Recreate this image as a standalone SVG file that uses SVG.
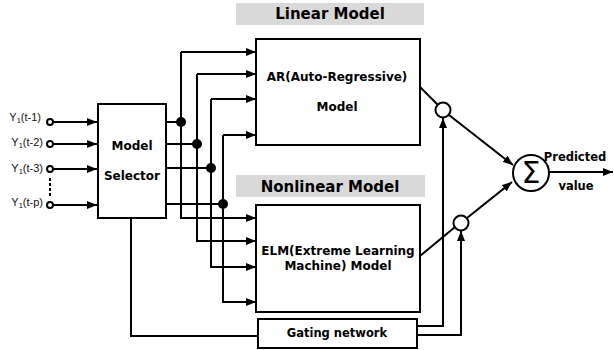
<svg xmlns="http://www.w3.org/2000/svg" width="614" height="350" viewBox="0 0 614 350">
<defs>
<marker id="arr" viewBox="0 0 10 8" refX="10" refY="4" markerWidth="10" markerHeight="8" markerUnits="userSpaceOnUse" orient="auto">
<path d="M0,0 L10,4 L0,8 Z" fill="#000"/>
</marker>
</defs>
<style>
.box{fill:#fff;stroke:#000;stroke-width:2}
.ln{fill:none;stroke:#000;stroke-width:2}
.a{marker-end:url(#arr)}
.lbl{fill:#d9d9d9}
.t{font-family:"DejaVu Sans",sans-serif;font-weight:bold;font-size:12px;text-anchor:middle;fill:#000}
.h{font-family:"DejaVu Sans",sans-serif;font-weight:bold;font-size:15px;text-anchor:middle;fill:#000}
.in{font-family:"Liberation Sans",Arial,sans-serif;font-size:11px;text-anchor:end;fill:#111}
.dot{fill:#000}
.oc{fill:#fff;stroke:#000;stroke-width:2}
</style>
<rect width="614" height="350" fill="#fff"/>

<g id="connectors">
<line class="ln a" x1="53" y1="122" x2="97" y2="122"/>
<line class="ln a" x1="53" y1="144" x2="97" y2="144"/>
<line class="ln a" x1="53" y1="169" x2="97" y2="169"/>
<line class="ln a" x1="53" y1="205" x2="97" y2="205"/>
<line x1="50" y1="178" x2="50" y2="198" stroke="#000" stroke-width="2" stroke-dasharray="3,2"/>
<line class="ln" x1="166" y1="122" x2="181" y2="122"/>
<line class="ln" x1="166" y1="144" x2="197" y2="144"/>
<line class="ln" x1="166" y1="168" x2="211" y2="168"/>
<line class="ln" x1="166" y1="204" x2="223" y2="204"/>
<path class="ln a" d="M181,52 H256"/>
<path class="ln a" d="M181,52 V218 H256"/>
<path class="ln a" d="M197,74 H256"/>
<path class="ln a" d="M197,74 V241 H256"/>
<path class="ln a" d="M211,99 H256"/>
<path class="ln a" d="M211,99 V267 H256"/>
<path class="ln a" d="M223,135 H256"/>
<path class="ln a" d="M223,135 V302 H256"/>
<circle class="dot" cx="181" cy="122" r="5"/>
<circle class="dot" cx="197" cy="144" r="5"/>
<circle class="dot" cx="211" cy="168" r="5"/>
<circle class="dot" cx="223" cy="204" r="5"/>
<path class="ln" d="M131,218 V336 H258"/>
<path class="ln a" d="M417,326 H443 V118"/>
<path class="ln a" d="M417,335 H461 V231"/>
<line class="ln" x1="420" y1="87" x2="437.5" y2="104.5"/>
<line class="ln" x1="420" y1="256" x2="455" y2="227"/>
<line class="ln a" x1="449" y1="115" x2="513" y2="165"/>
<line class="ln a" x1="467" y1="218" x2="512" y2="182"/>
<line class="ln a" x1="549" y1="172" x2="613" y2="172"/>
</g>

<g id="inputs">
<text class="in" x="41" y="121">Y<tspan font-size="7.5" dy="2">1</tspan><tspan dy="-2">(t-1)</tspan></text>
<text class="in" x="43" y="146">Y<tspan font-size="7.5" dy="2">1</tspan><tspan dy="-2">(t-2)</tspan></text>
<text class="in" x="43" y="172">Y<tspan font-size="7.5" dy="2">1</tspan><tspan dy="-2">(t-3)</tspan></text>
<text class="in" x="43" y="206">Y<tspan font-size="7.5" dy="2">1</tspan><tspan dy="-2">(t-p)</tspan></text>
<circle class="oc" cx="50" cy="122" r="3"/>
<circle class="oc" cx="50" cy="144" r="3"/>
<circle class="oc" cx="50" cy="169" r="3"/>
<circle class="oc" cx="50" cy="205" r="3"/>
</g>

<g id="selector">
<rect class="box" x="98" y="104" width="68" height="114"/>
<text class="t" x="132" y="150">Model</text>
<text class="t" x="132" y="180">Selector</text>
</g>

<g id="linear-label">
<rect class="lbl" x="236" y="3" width="188" height="22"/>
<text class="h" x="330" y="19">Linear Model</text>
</g>

<g id="linear">
<rect class="box" x="256" y="39" width="164" height="106"/>
<text class="t" x="337" y="81">AR(Auto-Regressive)</text>
<text class="t" x="337" y="111">Model</text>
</g>

<g id="nonlinear-label">
<rect class="lbl" x="236" y="175" width="189" height="22"/>
<text class="h" x="330" y="192">Nonlinear Model</text>
</g>

<g id="nonlinear">
<rect class="box" x="256" y="205" width="164" height="107"/>
<text class="t" x="338" y="255">ELM(Extreme Learning</text>
<text class="t" x="338" y="270">Machine) Model</text>
</g>

<g id="gating">
<rect class="box" x="258" y="319" width="159" height="29"/>
<text class="t" x="337" y="337" style="font-size:11.5px">Gating network</text>
</g>

<g id="mult1">
<circle class="oc" cx="443" cy="110" r="7.5"/>
</g>
<g id="mult2">
<circle class="oc" cx="461" cy="223" r="7.5"/>
</g>

<g id="sum">
<circle class="oc" cx="531" cy="173" r="18"/>
<text x="531" y="183" font-family="DejaVu Sans,sans-serif" font-size="30" text-anchor="middle">Σ</text>
</g>

<g id="output-label">
<text class="t" x="575" y="161" style="font-size:11.5px">Predicted</text>
<text class="t" x="576" y="190" style="font-size:11.5px">value</text>
</g>
</svg>
